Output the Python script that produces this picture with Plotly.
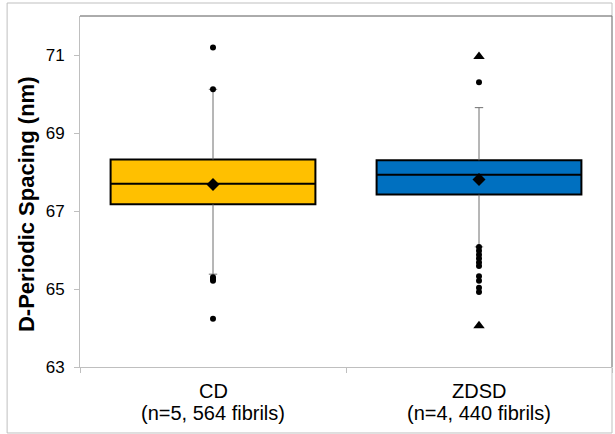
import plotly.graph_objects as go

# ---- data ----
categories = ["CD", "ZDSD"]
sample_labels = ["(n=5, 564 fibrils)", "(n=4, 440 fibrils)"]
q1 = [67.17, 67.42]
median = [67.70, 67.93]
q3 = [68.32, 68.30]
mean = [67.68, 67.81]
whisker_low = [65.38, 66.08]
whisker_high = [70.12, 69.65]
cd_outliers = [71.19, 70.12, 65.30, 65.25, 65.21, 64.24]
zdsd_outliers = [70.30, 66.08, 65.98, 65.88, 65.78, 65.68, 65.59, 65.33, 65.21, 65.03, 64.92]
zdsd_extremes = [70.96, 64.06]
fill_colors = ["#FFC000", "#0070C0"]
y_ticks = [63, 65, 67, 69, 71]
y_title = "D-Periodic Spacing (nm)"

FONT = "Liberation Sans, Arial, sans-serif"
fig = go.Figure()

for i, cat in enumerate(categories):
    # whiskers
    fig.add_trace(go.Scatter(x=[cat, cat], y=[q3[i], whisker_high[i]], mode="lines",
                             line=dict(color="#6f6f6f", width=1), hoverinfo="skip", showlegend=False))
    fig.add_trace(go.Scatter(x=[cat, cat], y=[whisker_low[i], q1[i]], mode="lines",
                             line=dict(color="#6f6f6f", width=1), hoverinfo="skip", showlegend=False))
    fig.add_trace(go.Scatter(x=[cat, cat], y=[whisker_low[i], whisker_high[i]], mode="markers",
                             marker=dict(symbol="line-ew", size=6, line=dict(color="#6f6f6f", width=1)),
                             hoverinfo="skip", showlegend=False))
    # box
    fig.add_trace(go.Box(x=[cat], q1=[q1[i]], median=[median[i]], q3=[q3[i]],
                         lowerfence=[q1[i]], upperfence=[q3[i]], width=0.77,
                         fillcolor=fill_colors[i], line=dict(color="black", width=2),
                         whiskerwidth=0, boxpoints=False, showlegend=False, hoverinfo="skip"))

# mean diamonds
fig.add_trace(go.Scatter(x=categories, y=mean, mode="markers",
                         marker=dict(symbol="diamond", size=10, color="black"),
                         showlegend=False))
# outliers
fig.add_trace(go.Scatter(x=[categories[0]] * len(cd_outliers), y=cd_outliers, mode="markers",
                         marker=dict(symbol="circle", size=6, color="black"), showlegend=False))
fig.add_trace(go.Scatter(x=[categories[1]] * len(zdsd_outliers), y=zdsd_outliers, mode="markers",
                         marker=dict(symbol="circle", size=6, color="black"), showlegend=False))
fig.add_trace(go.Scatter(x=[categories[1]] * len(zdsd_extremes), y=zdsd_extremes, mode="markers",
                         marker=dict(symbol="triangle-up", size=10, color="black"), showlegend=False))

annotations = []
for cat, lab in zip(categories, sample_labels):
    annotations.append(dict(x=cat, xref="x", yref="paper", y=-0.031, yanchor="top", showarrow=False,
                            text=cat, font=dict(size=20, family=FONT, color="black")))
    annotations.append(dict(x=cat, xref="x", yref="paper", y=-0.093, yanchor="top", showarrow=False,
                            text=lab, font=dict(size=20, family=FONT, color="black")))
annotations.append(dict(x=-0.1015, y=0.4615, xref="paper", yref="paper", showarrow=False,
                        xanchor="center", yanchor="middle",
                        textangle=-90, text="<b>" + y_title + "</b>",
                        font=dict(size=22, family=FONT, color="black")))

fig.update_layout(
    width=615, height=434,
    margin=dict(l=80, r=3, t=16, b=67),
    paper_bgcolor="white", plot_bgcolor="white",
    font=dict(family=FONT, color="black"),
    showlegend=False,
    xaxis=dict(type="category", categoryorder="array", categoryarray=categories,
               range=[-0.5, 1.5], showline=True, linecolor="#bfbfbf", linewidth=1,
               ticks="outside", tickson="boundaries", ticklen=5, tickcolor="#bfbfbf",
               showticklabels=False, showgrid=False, zeroline=False, automargin=False),
    yaxis=dict(range=[63, 72], tickvals=y_ticks, showline=True, linecolor="#bfbfbf", linewidth=1,
               ticks="outside", ticklen=5, tickcolor="#bfbfbf", ticklabelstandoff=6,
               tickfont=dict(size=17, family=FONT), showgrid=False, zeroline=False, automargin=False),
    annotations=annotations,
    shapes=[
        dict(type="line", xref="paper", yref="paper", x0=0, x1=1, y0=1, y1=1,
             line=dict(color="#595959", width=1)),
        dict(type="line", xref="paper", yref="paper", x0=1, x1=1, y0=0, y1=1,
             line=dict(color="#808080", width=1)),
        dict(type="rect", xref="paper", yref="paper", x0=-0.137, x1=1.0, y0=-0.188, y1=1.037,
             line=dict(color="#bfbfbf", width=1), layer="below"),
    ],
)

fig.write_html("out.html", config={"displayModeBar": False},
               post_script="document.body.style.margin='0';")
